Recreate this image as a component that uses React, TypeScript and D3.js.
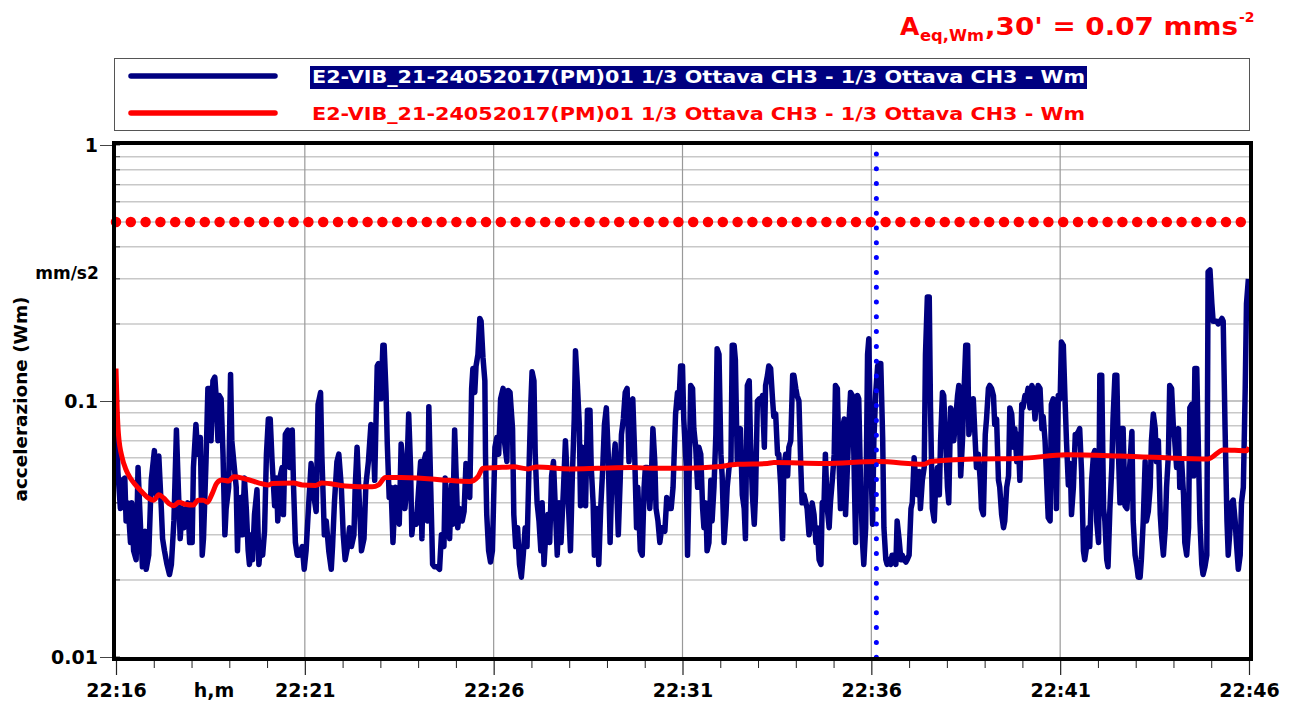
import { useEffect, useRef } from "react";
import * as d3 from "d3";

// time axis: 22:16 -> 22:46, readings in seconds from 22:16:00
const startLabel = "22:16:00";
const durationMinutes = 30;
const xTickLabels = ["22:16", "22:21", "22:26", "22:31", "22:36", "22:41", "22:46"];
const yTickValues = [0.01, 0.1, 1];
const yTickLabels = ["0.01", "0.1", "1"];

const legendLabels = [
  "E2-VIB_21-24052017(PM)01 1/3 Ottava CH3 - 1/3 Ottava CH3 - Wm",
  "E2-VIB_21-24052017(PM)01 1/3 Ottava CH3 - 1/3 Ottava CH3 - Wm",
];

const limitValue = 0.5;
const markerSecond = 1208;

// blue: acceleration (Wm), mm/s2
const blueSeconds = [
  0, 1, 3, 7, 10, 14, 16, 19, 23, 25,
  28, 32, 35, 39, 42, 46, 48, 52, 56, 61,
  64, 68, 72, 74, 77, 81, 85, 88, 92, 96,
  99, 102, 105, 108, 111, 114, 117, 121, 123, 127,
  130, 134, 137, 139, 143, 146, 149, 151, 154, 157,
  159, 162, 164, 167, 170, 173, 175, 179, 182, 184,
  188, 191, 193, 195, 198, 201, 204, 207, 210, 212,
  215, 217, 220, 224, 227, 230, 233, 236, 239, 242,
  245, 248, 252, 255, 257, 261, 264, 266, 269, 273,
  276, 280, 282, 285, 288, 291, 296, 299, 302, 306,
  310, 314, 318, 321, 325, 327, 331, 334, 338, 342,
  344, 347, 351, 354, 358, 361, 364, 368, 371, 374,
  378, 380, 383, 387, 390, 394, 397, 401, 405, 408,
  411, 415, 417, 421, 424, 426, 429, 431, 434, 437,
  440, 444, 447, 450,
  453, 456, 459, 461, 465, 468, 470, 473, 477, 481,
  484, 486, 489, 492, 495, 497, 500, 503, 506, 510,
  514, 517, 521, 523, 526, 530, 533, 535, 538, 541,
  543, 546, 550, 553, 556, 559, 562, 565, 567, 570,
  572, 575, 578, 580, 583, 586, 587, 589, 592, 595,
  598, 602, 605, 608, 611, 615, 617, 621, 623, 626,
  630, 632, 635, 638, 641, 644, 647, 650, 653, 656,
  659, 661, 664, 666, 669, 672, 675, 677, 680, 683,
  686, 689, 692, 695, 698, 701, 704, 707, 711, 714,
  716, 719, 722, 725, 728, 730, 733, 736, 738, 741,
  744, 746, 749, 753, 755, 758, 760, 764, 767, 770,
  773, 776, 779, 782, 785, 787, 790, 793, 795, 798,
  801, 803, 806, 809, 812, 815, 819, 821, 824, 827,
  829, 833, 836, 839, 841, 844, 848, 850, 853, 856,
  858, 861, 864, 867, 872, 875, 878, 882, 885, 889,
  892, 894, 897, 900, 902, 906, 908,
  910, 913, 916, 918, 921, 924, 926, 929, 932, 934,
  937, 939, 942, 945, 947, 950, 953, 955, 958, 961,
  963, 966, 969, 971, 974, 977, 979, 982, 984, 987,
  990, 992, 995, 998, 1000, 1003, 1006, 1008, 1011, 1014,
  1016, 1019, 1022, 1024, 1027, 1030, 1032, 1035, 1037, 1040,
  1043, 1045, 1048, 1051, 1053, 1056, 1059, 1061, 1064, 1067,
  1069, 1072, 1075, 1077, 1080, 1082, 1085, 1088, 1090, 1093,
  1096, 1098, 1101, 1104, 1106, 1109, 1112, 1114, 1117, 1120,
  1122, 1125, 1127, 1130, 1133, 1135, 1138, 1141, 1143, 1146,
  1149, 1151, 1154, 1157, 1159, 1162, 1165, 1167, 1170, 1172,
  1175, 1178, 1180, 1183, 1186, 1188, 1191, 1194, 1196, 1199,
  1202, 1204, 1207, 1210, 1212, 1215, 1218, 1220, 1223, 1225,
  1228, 1231, 1233, 1236, 1239, 1241, 1244, 1247, 1249, 1252,
  1255, 1257, 1260, 1263, 1265, 1268, 1270, 1273, 1276, 1278,
  1281, 1284, 1286, 1289, 1292, 1294, 1297, 1300, 1302, 1305,
  1308, 1310, 1313, 1315, 1318, 1321, 1323, 1326, 1329, 1331,
  1334, 1337, 1339, 1342, 1345, 1347, 1350, 1353, 1355, 1358,
  1362, 1365, 1367, 1370, 1373, 1375, 1378, 1381, 1383, 1386,
  1388, 1391, 1394, 1396, 1399, 1402, 1404, 1407, 1410, 1412,
  1415, 1418, 1420, 1423, 1426, 1428, 1431, 1433, 1436, 1439,
  1441, 1444, 1447, 1449, 1452, 1455, 1457, 1460, 1463, 1465,
  1468, 1471, 1473, 1476, 1479, 1481, 1484, 1486, 1489, 1492,
  1494, 1497, 1500, 1502, 1505, 1508, 1510, 1513, 1516, 1518,
  1521, 1524, 1526, 1529, 1531, 1534, 1537, 1539, 1542, 1545,
  1547, 1550, 1553, 1555, 1558, 1561, 1563, 1566, 1569, 1571,
  1574, 1576, 1579, 1582, 1584, 1587, 1590, 1592, 1595, 1598,
  1600, 1603, 1606, 1608, 1611, 1614, 1616, 1619, 1622, 1624,
  1627, 1629, 1632, 1635, 1637, 1640, 1643, 1645, 1648, 1651,
  1653, 1656, 1659, 1661, 1664, 1667, 1669, 1672, 1674, 1677,
  1680, 1682, 1685, 1688, 1690, 1693, 1696, 1698, 1701, 1704,
  1706, 1709, 1712, 1714, 1717, 1720, 1722, 1725, 1727, 1730,
  1733, 1735, 1738, 1741, 1743, 1746, 1749, 1751, 1754, 1757,
  1759, 1762, 1765, 1767, 1770, 1772, 1775, 1778, 1780, 1783,
  1786, 1788, 1791, 1794, 1796, 1799,
];

const blueValues = [
  0.1, 0.085, 0.053, 0.038, 0.049, 0.05, 0.034, 0.04, 0.028, 0.04,
  0.026, 0.024, 0.055, 0.032, 0.0225, 0.031, 0.022, 0.025, 0.049, 0.064,
  0.043, 0.061, 0.038, 0.029, 0.026, 0.023, 0.021, 0.023, 0.034, 0.077,
  0.046, 0.029, 0.038, 0.032, 0.036, 0.04, 0.028, 0.028, 0.055, 0.081,
  0.062, 0.072, 0.025, 0.029, 0.058, 0.112, 0.112, 0.07, 0.12, 0.124,
  0.105, 0.07, 0.105, 0.102, 0.062, 0.03, 0.038, 0.046, 0.127, 0.07,
  0.055, 0.046, 0.026, 0.038, 0.042, 0.03, 0.05, 0.038, 0.026, 0.023,
  0.03, 0.024, 0.036, 0.045, 0.023, 0.028, 0.025, 0.031, 0.062, 0.085,
  0.085, 0.058, 0.039, 0.05, 0.034, 0.051, 0.055, 0.036, 0.074, 0.077,
  0.055, 0.077, 0.047, 0.028, 0.025, 0.025, 0.027, 0.022, 0.026, 0.039,
  0.057, 0.043, 0.037, 0.097, 0.108, 0.062, 0.03, 0.034, 0.026, 0.022,
  0.027, 0.04, 0.058, 0.062, 0.046, 0.03, 0.024, 0.027, 0.032, 0.027,
  0.03, 0.046, 0.066, 0.038, 0.026, 0.029, 0.047, 0.058, 0.081, 0.078,
  0.049, 0.137, 0.14, 0.102, 0.165, 0.165, 0.108, 0.068, 0.042, 0.046,
  0.028, 0.046, 0.038, 0.033,
  0.068, 0.055, 0.038, 0.043, 0.089, 0.055, 0.03, 0.036, 0.033, 0.046,
  0.058, 0.029, 0.058, 0.062, 0.034, 0.095, 0.046, 0.023, 0.0225, 0.0225,
  0.022, 0.03, 0.027, 0.05, 0.038, 0.029, 0.047, 0.033, 0.077, 0.046,
  0.032, 0.038, 0.034, 0.037, 0.057, 0.055, 0.042, 0.112, 0.134, 0.108,
  0.137, 0.152, 0.21, 0.205, 0.148, 0.12, 0.062, 0.036, 0.026, 0.0235,
  0.026, 0.066, 0.072, 0.062, 0.102, 0.112, 0.07, 0.058, 0.11, 0.108,
  0.078, 0.036, 0.027, 0.032, 0.023, 0.0205, 0.025, 0.032, 0.027, 0.053,
  0.097, 0.13, 0.12, 0.062, 0.04, 0.034, 0.026, 0.04, 0.023, 0.031,
  0.036, 0.028, 0.051, 0.058, 0.038, 0.025, 0.04, 0.028, 0.046, 0.07,
  0.055, 0.038, 0.026, 0.051, 0.085, 0.157, 0.116, 0.081, 0.039, 0.066,
  0.055, 0.039, 0.092, 0.092, 0.055, 0.04, 0.025, 0.038, 0.023, 0.038,
  0.053, 0.081, 0.094, 0.062, 0.028, 0.043, 0.055, 0.068, 0.05, 0.03,
  0.049, 0.074, 0.085, 0.108, 0.112, 0.058, 0.1, 0.102, 0.062, 0.032,
  0.046, 0.026, 0.025, 0.046, 0.055, 0.055, 0.038, 0.046, 0.078, 0.058,
  0.038, 0.034, 0.028, 0.032, 0.031, 0.042, 0.038, 0.038, 0.046, 0.089,
  0.108, 0.094, 0.137, 0.137, 0.085, 0.055, 0.025,
  0.043, 0.115, 0.112, 0.078, 0.066, 0.046, 0.066, 0.062, 0.038, 0.032,
  0.04, 0.026, 0.028, 0.049, 0.034, 0.046, 0.074, 0.16, 0.152, 0.062,
  0.051, 0.028, 0.036, 0.046, 0.055, 0.058, 0.165, 0.165, 0.145, 0.058,
  0.074, 0.078, 0.043, 0.038, 0.029, 0.115, 0.12, 0.07, 0.043, 0.033,
  0.043, 0.1, 0.102, 0.1, 0.105, 0.066, 0.115, 0.126, 0.137, 0.134,
  0.102, 0.087, 0.089, 0.062, 0.062, 0.047, 0.029, 0.055, 0.062, 0.051,
  0.066, 0.07, 0.126, 0.126, 0.112, 0.105, 0.1, 0.055, 0.04, 0.043,
  0.04, 0.038, 0.03, 0.034, 0.04, 0.036, 0.028, 0.032, 0.024, 0.023,
  0.04, 0.041, 0.062, 0.038, 0.032, 0.04, 0.049, 0.062, 0.115, 0.112,
  0.055, 0.038, 0.078, 0.085, 0.036, 0.055, 0.087, 0.108, 0.105, 0.066,
  0.028, 0.105, 0.102, 0.046, 0.028, 0.023, 0.032, 0.152, 0.175, 0.062,
  0.033, 0.07, 0.108, 0.137, 0.14, 0.14, 0.072, 0.032, 0.024, 0.023,
  0.024, 0.023, 0.025, 0.025, 0.023, 0.034, 0.029, 0.024, 0.025, 0.024,
  0.0235, 0.024, 0.025, 0.038, 0.04, 0.06, 0.051, 0.043, 0.053, 0.038,
  0.049, 0.055, 0.152, 0.255, 0.255, 0.094, 0.038, 0.034, 0.046, 0.055,
  0.043, 0.07, 0.108, 0.105, 0.07, 0.046, 0.04, 0.094, 0.089, 0.07,
  0.085, 0.105, 0.115, 0.051, 0.072, 0.105, 0.165, 0.165, 0.074, 0.085,
  0.102, 0.07, 0.055, 0.062, 0.049, 0.038, 0.036, 0.074, 0.085, 0.112,
  0.115, 0.112, 0.105, 0.081, 0.085, 0.049, 0.046, 0.036, 0.032, 0.034,
  0.046, 0.051, 0.094, 0.089, 0.066, 0.078, 0.058, 0.074, 0.049, 0.097,
  0.094, 0.105, 0.105, 0.112, 0.094, 0.115, 0.112, 0.085, 0.105, 0.115,
  0.112, 0.078, 0.087, 0.07, 0.046, 0.035, 0.034, 0.097, 0.102, 0.066,
  0.038, 0.105, 0.102, 0.17, 0.165, 0.097, 0.07, 0.047, 0.057, 0.036,
  0.046, 0.074, 0.074, 0.076, 0.078, 0.053, 0.026, 0.024, 0.027, 0.032,
  0.027, 0.049, 0.062, 0.064, 0.034, 0.028, 0.126, 0.126, 0.038, 0.034,
  0.024, 0.0225, 0.038, 0.055, 0.085, 0.126, 0.126, 0.07, 0.04, 0.078,
  0.078, 0.039, 0.038, 0.046, 0.058, 0.076, 0.034, 0.025, 0.0225, 0.0205,
  0.0205, 0.024, 0.034, 0.058, 0.034, 0.037, 0.046, 0.07, 0.089, 0.078,
  0.058, 0.07, 0.036, 0.03, 0.025, 0.032, 0.046, 0.062, 0.115, 0.112,
  0.078, 0.07, 0.055, 0.078, 0.046, 0.058, 0.043, 0.028, 0.025, 0.032,
  0.094, 0.097, 0.051, 0.134, 0.134, 0.058, 0.034, 0.023, 0.021, 0.0225,
  0.025, 0.32, 0.325, 0.24, 0.205, 0.205, 0.205, 0.2, 0.205, 0.21,
  0.205, 0.078, 0.034, 0.025, 0.032, 0.04, 0.041, 0.034, 0.028, 0.022,
  0.025, 0.04, 0.046, 0.112, 0.24, 0.3,
];

// red: running average
const redSeconds = [
  0, 2, 4, 10, 15, 23, 31, 41, 52, 60,
  68, 76, 84, 92, 100, 110, 123, 130, 139, 145,
  153, 160, 168, 179, 187, 206, 243, 248, 282, 296,
  317, 327, 364, 407, 417, 428, 453, 501, 527, 562,
  575, 583, 607, 631, 655, 668, 723, 766, 819, 851,
  908, 955, 987, 1035, 1045, 1125, 1210, 1284, 1294, 1362,
  1436, 1510, 1595, 1727, 1735, 1759, 1796, 1800,
];
const redValues = [
  0.134, 0.0908, 0.0737, 0.0598, 0.0546, 0.0499, 0.047, 0.0442, 0.0417, 0.041,
  0.043, 0.0417, 0.0398, 0.039, 0.0402, 0.0395, 0.0392, 0.041, 0.041, 0.0402,
  0.0436, 0.0477, 0.0491, 0.0487, 0.0506, 0.0496, 0.047, 0.0476, 0.0478, 0.047,
  0.0468, 0.0478, 0.0466, 0.0462, 0.047, 0.0503, 0.0502, 0.0496, 0.049, 0.0485,
  0.0506, 0.0546, 0.055, 0.0553, 0.0543, 0.0552, 0.0543, 0.0546, 0.055, 0.0546,
  0.0546, 0.0553, 0.0566, 0.057, 0.0575, 0.057, 0.058, 0.0566, 0.058, 0.0594,
  0.0597, 0.0616, 0.061, 0.0594, 0.0594, 0.0644, 0.0639, 0.066,
];

const W = 1300;
const H = 702;
const NAVY = "#000080";
const RED = "#ff0000";
const FONT = "'Comic Sans MS', 'DejaVu Sans', sans-serif";

const App = () => {
  const svgRef = useRef<SVGSVGElement>(null);

  useEffect(() => {
    const svg = d3.select(svgRef.current);
    svg.selectAll("*").remove();

    const margin = { top: 145, right: 51, bottom: 45, left: 116 };
    const parseFull = d3.timeParse("%H:%M:%S");
    const parseHM = d3.timeParse("%H:%M");
    const start = parseFull(startLabel) as Date;
    const end = d3.timeMinute.offset(start, durationMinutes);
    const toDate = (s: number) => d3.timeSecond.offset(start, s);

    const x = d3.scaleTime().domain([start, end]).range([margin.left, W - margin.right]);
    const y = d3.scaleLog().domain([0.01, 1]).range([H - margin.bottom, margin.top]);
    const [x0, x1] = x.range();
    const [y0, y1] = y.range(); // y0 bottom, y1 top

    // grid
    const grid = svg.append("g");
    grid.selectAll(".hminor")
      .data(y.ticks().filter((v) => !yTickValues.includes(+v.toPrecision(3))))
      .join("line")
      .attr("x1", x0).attr("x2", x1)
      .attr("y1", (d) => y(d)).attr("y2", (d) => y(d))
      .attr("stroke", "#c8c8c8").attr("stroke-width", 1.5);
    grid.selectAll(".hmajor")
      .data([0.1])
      .join("line")
      .attr("x1", x0).attr("x2", x1)
      .attr("y1", (d) => y(d)).attr("y2", (d) => y(d))
      .attr("stroke", "#8a8a8a").attr("stroke-width", 1.2);
    const majorDates = xTickLabels.map((l) => parseHM(l) as Date);
    grid.selectAll(".vgrid")
      .data(majorDates.slice(1, -1))
      .join("line")
      .attr("x1", (d) => x(d)).attr("x2", (d) => x(d))
      .attr("y1", y1).attr("y2", y0)
      .attr("stroke", "#999").attr("stroke-width", 1.2);
    // little ticks inside left edge
    grid.selectAll(".inner")
      .data(y.ticks())
      .join("line")
      .attr("x1", x0).attr("x2", x0 + 4)
      .attr("y1", (d) => y(d)).attr("y2", (d) => y(d))
      .attr("stroke", "#444").attr("stroke-width", 1);

    // limit (red dots)
    svg.append("line")
      .attr("x1", x0).attr("x2", x1)
      .attr("y1", y(limitValue)).attr("y2", y(limitValue))
      .attr("stroke", RED).attr("stroke-width", 10.5)
      .attr("stroke-linecap", "round")
      .attr("stroke-dasharray", "0 14.8");

    const line = d3.line<[Date, number]>()
      .x((d) => x(d[0]))
      .y((d) => y(d[1]));

    const blue: [Date, number][] = blueSeconds.map((s, i) => [toDate(s), blueValues[i]]);
    const red: [Date, number][] = redSeconds.map((s, i) => [toDate(s), redValues[i]]);

    svg.append("path")
      .datum(blue)
      .attr("d", line)
      .attr("fill", "none")
      .attr("stroke", NAVY)
      .attr("stroke-width", 5.5)
      .attr("stroke-linejoin", "round");

    svg.append("path")
      .datum(red)
      .attr("d", line.curve(d3.curveMonotoneX))
      .attr("fill", "none")
      .attr("stroke", RED)
      .attr("stroke-width", 5)
      .attr("stroke-linejoin", "round");

    // cursor (blue dots)
    const mx = x(toDate(markerSecond));
    svg.append("line")
      .attr("x1", mx).attr("x2", mx)
      .attr("y1", y1 + 9).attr("y2", y0 + 2)
      .attr("stroke", "#0000ff").attr("stroke-width", 5)
      .attr("stroke-linecap", "round")
      .attr("stroke-dasharray", "0 14.8");

    // frame
    svg.append("rect")
      .attr("x", x0 - 2).attr("y", y1 - 2)
      .attr("width", x1 - x0 + 4).attr("height", y0 - y1 + 4)
      .attr("fill", "none").attr("stroke", "#000").attr("stroke-width", 4);

    // x axis
    const xAxis = d3.axisBottom(x)
      .tickValues(majorDates)
      .tickSize(14)
      .tickPadding(9)
      .tickFormat((d) => d3.timeFormat("%H:%M")(d as Date));
    const gx = svg.append("g").attr("transform", `translate(0,${y0 + 4})`).call(xAxis);
    gx.select(".domain").remove();
    gx.selectAll(".tick line").attr("stroke", "#222").attr("stroke-width", 1.2);
    gx.selectAll(".tick text")
      .attr("font-family", FONT).attr("font-size", 19).attr("font-weight", "bold").attr("fill", "#000");

    const minorAxis = d3.axisBottom(x)
      .tickValues(d3.timeMinute.range(start, end).filter((d) => !majorDates.some((m) => +m === +d)))
      .tickSize(7)
      .tickFormat(() => "");
    const gm = svg.append("g").attr("transform", `translate(0,${y0 + 4})`).call(minorAxis);
    gm.select(".domain").remove();
    gm.selectAll(".tick line").attr("stroke", "#222");

    // y axis
    const yAxis = d3.axisLeft(y)
      .tickValues(yTickValues)
      .tickSize(12)
      .tickPadding(2)
      .tickFormat((d, i) => yTickLabels[i]);
    const gy = svg.append("g").attr("transform", `translate(${x0 - 4},0)`).call(yAxis);
    gy.select(".domain").remove();
    gy.selectAll(".tick line").attr("stroke", "#444");
    gy.selectAll(".tick text")
      .attr("font-family", FONT).attr("font-size", 19).attr("font-weight", "bold").attr("fill", "#000");

    const label = (sel: d3.Selection<SVGTextElement, unknown, null, undefined>, size: number) =>
      sel.attr("font-family", FONT).attr("font-size", size).attr("font-weight", "bold");

    label(svg.append("text"), 19)
      .attr("x", 214).attr("y", y0 + 40).attr("text-anchor", "middle").text("h,m");
    label(svg.append("text"), 17)
      .attr("x", 67).attr("y", 279).attr("text-anchor", "middle").text("mm/s2");
    label(svg.append("text"), 17)
      .attr("transform", `translate(27,${(y0 + y1) / 2 - 2}) rotate(-90)`)
      .attr("text-anchor", "middle")
      .attr("textLength", 205).attr("lengthAdjust", "spacingAndGlyphs")
      .text("accelerazione (Wm)");

    // legend
    const lg = svg.append("g");
    lg.append("rect")
      .attr("x", 114.5).attr("y", 58.5).attr("width", 1135).attr("height", 72)
      .attr("fill", "#fff").attr("stroke", "#555").attr("stroke-width", 1);
    [NAVY, RED].forEach((c, i) => {
      const cy = 76 + i * 37;
      lg.append("line")
        .attr("x1", 131).attr("x2", 275).attr("y1", cy).attr("y2", cy)
        .attr("stroke", c).attr("stroke-width", 5.5).attr("stroke-linecap", "round");
      if (i === 0) {
        lg.append("rect").attr("x", 310).attr("y", cy - 10).attr("width", 777).attr("height", 23).attr("fill", NAVY);
      }
      label(lg.append("text"), 17)
        .attr("x", 312).attr("y", cy + 7)
        .attr("fill", i === 0 ? "#fff" : RED)
        .attr("textLength", 773).attr("lengthAdjust", "spacingAndGlyphs")
        .text(legendLabels[i]);
    });

    // title
    const tg = svg.append("g").attr("fill", RED);
    label(tg.append("text"), 25).attr("x", 900).attr("y", 35).text("A");
    label(tg.append("text"), 15).attr("x", 920).attr("y", 41)
      .attr("textLength", 64).attr("lengthAdjust", "spacingAndGlyphs").text("eq,Wm");
    label(tg.append("text"), 25).attr("x", 985).attr("y", 35)
      .attr("textLength", 253).attr("lengthAdjust", "spacingAndGlyphs").text(",30' = 0.07 mms");
    label(tg.append("text"), 14).attr("x", 1239).attr("y", 22).text("-2");
  }, []);

  return (
    <svg
      ref={svgRef}
      width={W}
      height={H}
      style={{ position: "absolute", left: 0, top: 0, background: "#fff" }}
    />
  );
};

export default App;
